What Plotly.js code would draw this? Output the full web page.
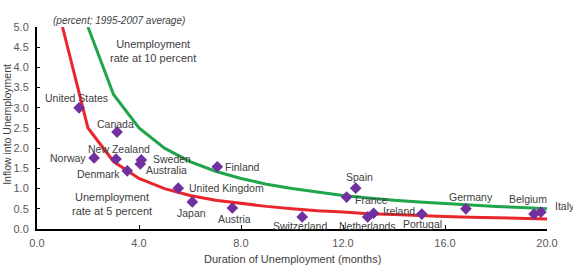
<!DOCTYPE html>
<html>
<head>
<meta charset="utf-8">
<script src="https://cdn.plot.ly/plotly-3.0.1.min.js"></script>
<style>html,body{margin:0;padding:0;background:#fff;}#chart{width:573px;height:268px;}</style>
</head>
<body>
<div id="chart"></div>
<script>
// Country observations (duration in months, inflow in percent)
var countries = ["United States","Canada","Norway","New Zealand","Sweden","Australia","Denmark","United Kingdom","Japan","Finland","Austria","Switzerland","Spain","France","Netherlands","Ireland","Portugal","Germany","Belgium","Italy"];
var duration  = [1.65, 3.14, 2.24, 3.10, 4.09, 4.05, 3.54, 5.54, 6.09, 7.07, 7.66, 10.4, 12.5, 12.14, 12.97, 13.2, 15.09, 16.82, 19.49, 19.76];
var inflow    = [3.00, 2.40, 1.76, 1.73, 1.71, 1.61, 1.44, 1.01, 0.67, 1.54, 0.52, 0.30, 1.01, 0.79, 0.30, 0.39, 0.37, 0.50, 0.37, 0.42];

// Iso-unemployment curves
var curve5x  = [1,2,3,4,5,6,7,8,9,10,11,12,13,14,15,16,17,18,19,20];
var curve5y  = [5.0,2.5,1.67,1.25,1.0,0.83,0.71,0.63,0.56,0.5,0.45,0.42,0.38,0.36,0.33,0.31,0.29,0.28,0.26,0.25];
var curve10x = [2,3,4,5,6,7,8,9,10,11,12,13,14,15,16,17,18,19,20];
var curve10y = [5.0,3.33,2.5,2.0,1.67,1.43,1.25,1.11,1.0,0.91,0.83,0.77,0.71,0.67,0.63,0.59,0.56,0.53,0.5];

var xTicks = [0,4,8,12,16,20];
var yTicks = [0,0.5,1,1.5,2,2.5,3,3.5,4,4.5,5];

// label placement (pixels) per country
var labelPlace = {
  "United States": {a:"center", dx:-3, dy:10},
  "Canada": {a:"center", dx:-2, dy:8},
  "Norway": {a:"right", dx:-6, dy:0},
  "New Zealand": {a:"center", dx:3, dy:10},
  "Sweden": {a:"left", dx:10, dy:1},
  "Australia": {a:"left", dx:4, dy:-6},
  "Denmark": {a:"right", dx:-5, dy:-3},
  "United Kingdom": {a:"left", dx:9, dy:0},
  "Japan": {a:"center", dx:-1, dy:-11},
  "Finland": {a:"left", dx:6, dy:0},
  "Austria": {a:"center", dx:2, dy:-11},
  "Switzerland": {a:"center", dx:-2, dy:-9},
  "Spain": {a:"center", dx:4, dy:11},
  "France": {a:"left", dx:6, dy:-3},
  "Netherlands": {a:"center", dx:0, dy:-9},
  "Ireland": {a:"left", dx:7, dy:2},
  "Portugal": {a:"center", dx:1, dy:-10},
  "Germany": {a:"center", dx:5, dy:12},
  "Belgium": {a:"center", dx:-6, dy:15},
  "Italy": {a:"left", dx:12, dy:6}
};

var txtColor = "#404040";
var fontFam = "Liberation Sans, Arial, sans-serif";

var traces = [
  {x: curve5x, y: curve5y, mode: "lines", line: {color: "#e8262b", width: 3}, hoverinfo: "skip"},
  {x: curve10x, y: curve10y, mode: "lines", line: {color: "#1fa54a", width: 3}, hoverinfo: "skip"},
  {x: duration, y: inflow, mode: "markers", text: countries,
   marker: {symbol: "diamond", size: 9, color: "#7030a0"}}
];

var annotations = countries.map(function(c, i){
  var p = labelPlace[c];
  return {x: duration[i], y: inflow[i], xref: "x", yref: "y", text: c, showarrow: false,
    xanchor: p.a, yanchor: "middle", xshift: p.dx, yshift: p.dy,
    font: {family: fontFam, size: 10.5, color: txtColor}};
});

annotations.push(
  {x: 4.56, y: 4.41, xref: "x", yref: "y", text: "Unemployment<br>rate at 10 percent", showarrow: false,
   xanchor: "center", yanchor: "middle", align: "center", font: {family: fontFam, size: 11, color: txtColor}},
  {x: 2.95, y: 0.62, xref: "x", yref: "y", text: "Unemployment<br>rate at 5 percent", showarrow: false,
   xanchor: "center", yanchor: "middle", align: "center", font: {family: fontFam, size: 11, color: txtColor}},
  {x: 0.161, y: 1.03, xref: "paper", yref: "paper", text: "<i>(percent; 1995-2007 average)</i>", showarrow: false,
   xanchor: "center", yanchor: "middle", font: {family: fontFam, size: 10, color: txtColor}},
  {x: -0.059, y: 0.52, xref: "paper", yref: "paper", text: "Inflow into Unemployment", showarrow: false,
   textangle: -90, xanchor: "center", yanchor: "middle", font: {family: fontFam, size: 10.5, color: txtColor}},
  {x: 0.5, y: -0.149, xref: "paper", yref: "paper", text: "Duration of Unemployment (months)", showarrow: false,
   xanchor: "center", yanchor: "middle", font: {family: fontFam, size: 11, color: txtColor}}
);

var layout = {
  width: 573, height: 268,
  margin: {l: 37, r: 26, t: 27, b: 39},
  paper_bgcolor: "#ffffff", plot_bgcolor: "#ffffff",
  showlegend: false,
  xaxis: {range: [0, 20], tickvals: xTicks, ticktext: xTicks.map(function(v){return v.toFixed(1);}),
    showgrid: false, zeroline: false, showline: true, linecolor: "#000", linewidth: 2,
    ticks: "inside", ticklen: 4, tickcolor: "#000", tickwidth: 1, ticklabelstandoff: 3,
    tickfont: {family: fontFam, size: 11, color: "#595959"}},
  yaxis: {range: [0, 5], tickvals: yTicks, ticktext: yTicks.map(function(v){return v.toFixed(1);}),
    showgrid: false, zeroline: false, showline: true, linecolor: "#000", linewidth: 2,
    ticks: "inside", ticklen: 3, tickcolor: "#000", tickwidth: 1, ticklabelstandoff: 4,
    tickfont: {family: fontFam, size: 11, color: "#595959"}},
  annotations: annotations
};

Plotly.newPlot("chart", traces, layout, {displayModeBar: false, staticPlot: true});
</script>
</body>
</html>
